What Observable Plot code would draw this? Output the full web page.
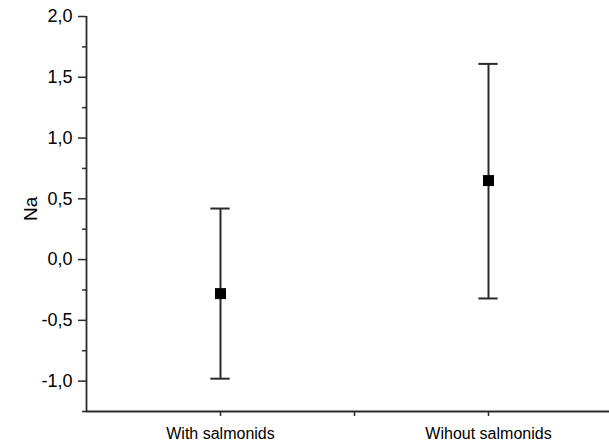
<!DOCTYPE html>
<html>
<head>
<meta charset="utf-8">
<script src="https://cdn.jsdelivr.net/npm/d3@7"></script>
<script src="https://cdn.jsdelivr.net/npm/@observablehq/plot@0.6"></script>
<style>
  html, body { margin: 0; padding: 0; background: #fff; overflow: hidden; }
  #chart svg { display: block; overflow: hidden; }
</style>
</head>
<body>
<div id="chart"></div>
<script>
const categories = ["With salmonids", "Wihout salmonids"];
const means = [-0.28, 0.65];
const upper = [0.42, 1.61];
const lower = [-0.98, -0.32];
const yMajorTicks = [-1, -0.5, 0, 0.5, 1, 1.5, 2];
const yMinorTicks = [-1.25, -0.75, -0.25, 0.25, 0.75, 1.25, 1.75];
const yLabel = "Na";

const data = categories.map((c, i) => ({
  cat: c, pos: i + 0.5, mean: means[i], hi: upper[i], lo: lower[i]
}));
const capHalf = 0.036;
const xTicks = [0.5, 1, 1.5];
const fmtY = d => d.toFixed(1).replace(".", ",");
const fmtX = d => d === 0.5 ? categories[0] : d === 1.5 ? categories[1] : "";
const ink = "#2a2a2a";

const chart = Plot.plot({
  width: 609,
  height: 446,
  marginLeft: 86,
  marginRight: 0,
  marginTop: 16,
  marginBottom: 35,
  style: { fontFamily: "'Liberation Sans', Arial, sans-serif", fontSize: "16px", color: "#000", background: "#fff" },
  x: { domain: [0, 2], range: [86, 622] },
  y: { domain: [-1.25, 2] },
  marks: [
    Plot.axisY({ ticks: yMinorTicks, tickSize: 4, text: null, stroke: ink, strokeWidth: 1.5, label: null }),
    Plot.axisY({ ticks: yMajorTicks, tickSize: 8, text: null, stroke: ink, strokeWidth: 1.5, label: null }),
    Plot.text(yMajorTicks, { x: 0, y: d => d, text: fmtY, textAnchor: "end", dx: -14, fontSize: 18, fill: "#000" }),
    Plot.axisX({ ticks: xTicks, tickSize: 5, tickPadding: 11, tickFormat: fmtX, stroke: ink, strokeWidth: 1.5, label: null }),
    Plot.text([yLabel], { frameAnchor: "left", rotate: -90, dx: -56, dy: 7, fontSize: 19, fill: "#000" }),
    Plot.ruleX([0], { stroke: ink, strokeWidth: 1.8 }),
    Plot.ruleY([-1.25], { stroke: ink, strokeWidth: 1.8 }),
    Plot.ruleX(data, { x: "pos", y1: "lo", y2: "hi", stroke: ink, strokeWidth: 2 }),
    Plot.ruleY(data, { y: "hi", x1: d => d.pos - capHalf, x2: d => d.pos + capHalf, stroke: ink, strokeWidth: 2 }),
    Plot.ruleY(data, { y: "lo", x1: d => d.pos - capHalf, x2: d => d.pos + capHalf, stroke: ink, strokeWidth: 2 }),
    Plot.dot(data, { x: "pos", y: "mean", symbol: "square", r: 6.2, fill: "#000", stroke: "none" })
  ]
});
document.getElementById("chart").appendChild(chart);
</script>
</body>
</html>
